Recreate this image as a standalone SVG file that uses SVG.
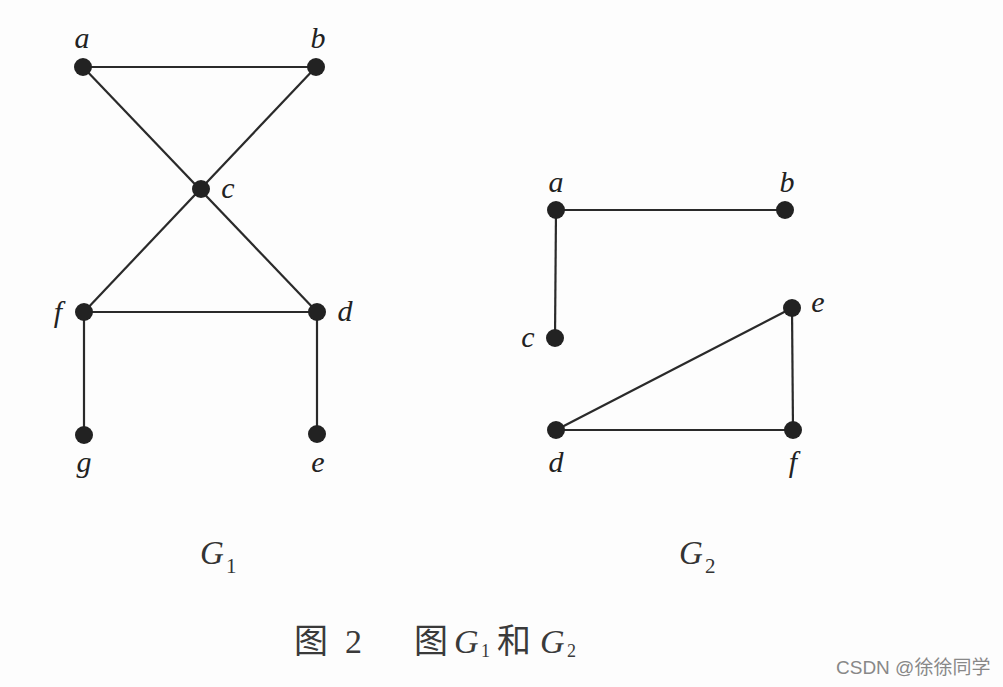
<svg xmlns="http://www.w3.org/2000/svg" width="1003" height="687" viewBox="0 0 1003 687">
<style>
.e{stroke:#2a2a2a;stroke-width:2.2;fill:none}
.n{fill:#222}
.l{font-family:"Liberation Serif",serif;font-style:italic;font-size:30px;fill:#222}
.g{font-family:"Liberation Serif",serif;font-style:italic;font-size:33px;fill:#333}
.s{font-family:"Liberation Serif",serif;font-size:21px;fill:#333}
.cap{font-family:"Liberation Serif","Noto Sans CJK SC",serif;font-size:34px;fill:#3a3a3a}
.sub{font-family:"Liberation Serif",serif;font-size:18px;fill:#3a3a3a}
.w{font-family:"Liberation Sans","Noto Sans CJK SC",sans-serif;font-size:19px;fill:#888}
</style>
<rect width="1003" height="687" fill="#fdfdfd"/>
<g id="connectors">
<line class="e" x1="83" y1="67" x2="316" y2="67"/>
<line class="e" x1="83" y1="67" x2="317" y2="312"/>
<line class="e" x1="316" y1="67" x2="84" y2="312"/>
<line class="e" x1="84" y1="312" x2="317" y2="312"/>
<line class="e" x1="84" y1="312" x2="84" y2="435"/>
<line class="e" x1="317" y1="312" x2="317" y2="434"/>
<line class="e" x1="556" y1="210" x2="785" y2="210"/>
<line class="e" x1="556" y1="210" x2="555" y2="338"/>
<line class="e" x1="556" y1="430" x2="793" y2="430"/>
<line class="e" x1="556" y1="430" x2="792" y2="308"/>
<line class="e" x1="792" y1="308" x2="793" y2="430"/>
</g>
<g id="G1-a"><circle class="n" cx="83" cy="67" r="9"/><text class="l" x="82" y="48" text-anchor="middle">a</text></g>
<g id="G1-b"><circle class="n" cx="316" cy="67" r="9"/><text class="l" x="318" y="48" text-anchor="middle">b</text></g>
<g id="G1-c"><circle class="n" cx="201" cy="189" r="9"/><text class="l" x="228" y="198" text-anchor="middle">c</text></g>
<g id="G1-f"><circle class="n" cx="84" cy="312" r="9"/><text class="l" x="58" y="322" text-anchor="middle">f</text></g>
<g id="G1-d"><circle class="n" cx="317" cy="312" r="9"/><text class="l" x="345" y="321" text-anchor="middle">d</text></g>
<g id="G1-g"><circle class="n" cx="84" cy="435" r="9"/><text class="l" x="84" y="472" text-anchor="middle">g</text></g>
<g id="G1-e"><circle class="n" cx="317" cy="434" r="9"/><text class="l" x="318" y="472" text-anchor="middle">e</text></g>
<g id="G2-a"><circle class="n" cx="556" cy="210" r="9"/><text class="l" x="556" y="192" text-anchor="middle">a</text></g>
<g id="G2-b"><circle class="n" cx="785" cy="210" r="9"/><text class="l" x="787" y="192" text-anchor="middle">b</text></g>
<g id="G2-c"><circle class="n" cx="555" cy="338" r="9"/><text class="l" x="528" y="347" text-anchor="middle">c</text></g>
<g id="G2-e"><circle class="n" cx="792" cy="308" r="9"/><text class="l" x="818" y="312" text-anchor="middle">e</text></g>
<g id="G2-d"><circle class="n" cx="556" cy="430" r="9"/><text class="l" x="556" y="472" text-anchor="middle">d</text></g>
<g id="G2-f"><circle class="n" cx="793" cy="430" r="9"/><text class="l" x="793" y="472" text-anchor="middle">f</text></g>
<g id="label-G1"><text class="g" x="200" y="564">G</text><text class="s" x="226" y="573">1</text></g>
<g id="label-G2"><text class="g" x="679" y="564">G</text><text class="s" x="705" y="573">2</text></g>
<g id="caption">
<text class="cap" x="294" y="653">图</text>
<text class="cap" x="345" y="653">2</text>
<text class="cap" x="414" y="653">图</text>
<text class="cap" x="454" y="653" font-style="italic">G</text>
<text class="sub" x="481" y="657">1</text>
<text class="cap" x="497" y="653">和</text>
<text class="cap" x="540" y="653" font-style="italic">G</text>
<text class="sub" x="567" y="657">2</text>
</g>
<text class="w" x="836" y="674">CSDN @徐徐同学</text>
</svg>
